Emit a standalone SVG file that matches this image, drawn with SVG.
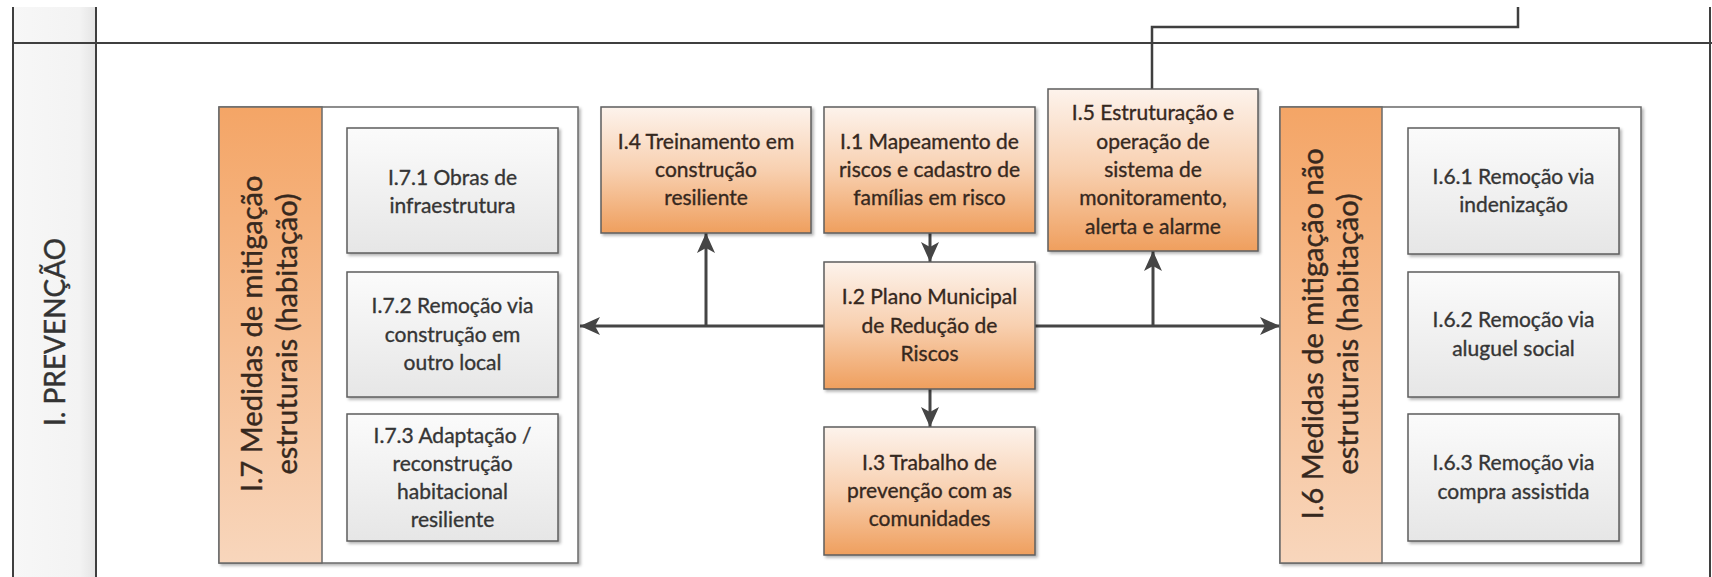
<svg xmlns="http://www.w3.org/2000/svg" width="1712" height="577" viewBox="0 0 1712 577">
<style>
  .lane { stroke: #3f3f3f; stroke-width: 2; fill: none; }
  .cont { fill: #ffffff; stroke: #6a6a6a; stroke-width: 1.5; }
  .band { fill: url(#bandGrad); stroke: #6a6a6a; stroke-width: 1.5; }
  .gbox { fill: url(#grayGrad); stroke: #5e5e5e; stroke-width: 1.5; filter: url(#shadow); }
  .obox { fill: url(#orangeGrad); stroke: #5e5e5e; stroke-width: 1.5; filter: url(#shadow); }
  .t { font-family: Lato, "Liberation Sans", sans-serif; font-size: 21px; text-anchor: middle; stroke-width: 0.35; }
  .tg { fill: #353535; stroke: #353535; }
  .to { fill: #36281e; stroke: #36281e; }
  .tv { font-family: Lato, "Liberation Sans", sans-serif; font-size: 29px; text-anchor: middle; fill: #36281e; stroke: #36281e; stroke-width: 0.4; }
  .tl { font-family: Lato, "Liberation Sans", sans-serif; font-size: 28px; text-anchor: middle; fill: #333333; stroke: #333333; stroke-width: 0.4; }
  .conn { stroke: #454545; stroke-width: 3; fill: none; }
  .conn2 { stroke: #3f3f3f; stroke-width: 2.5; fill: none; }
</style>
<defs>
  <linearGradient id="grayGrad" x1="0" y1="0" x2="0" y2="1">
    <stop offset="0" stop-color="#fbfbfb"/>
    <stop offset="1" stop-color="#e6e6e6"/>
  </linearGradient>
  <linearGradient id="orangeGrad" x1="0" y1="0" x2="0" y2="1">
    <stop offset="0" stop-color="#fdf3ec"/>
    <stop offset="0.5" stop-color="#f8d0b0"/>
    <stop offset="1" stop-color="#ef9f5e"/>
  </linearGradient>
  <linearGradient id="bandGrad" x1="0" y1="0" x2="0" y2="1">
    <stop offset="0" stop-color="#f4a566"/>
    <stop offset="1" stop-color="#f8d6bc"/>
  </linearGradient>
  <linearGradient id="laneGrad" x1="0" y1="0" x2="1" y2="0">
    <stop offset="0" stop-color="#f7f7f7"/>
    <stop offset="0.8" stop-color="#f3f3f3"/>
    <stop offset="1" stop-color="#e4e4e4"/>
  </linearGradient>
  <filter id="shadow" x="-10%" y="-10%" width="125%" height="125%">
    <feDropShadow dx="2" dy="2" stdDeviation="1.5" flood-color="#000" flood-opacity="0.3"/>
  </filter>
  <marker id="arr" markerUnits="userSpaceOnUse" markerWidth="22" markerHeight="20" refX="20" refY="9" orient="auto">
    <path d="M0,0 L20,9 L0,18 L5,9 Z" fill="#454545"/>
  </marker>
</defs>

<g id="lane">
  <rect x="13" y="7" width="83" height="570" fill="url(#laneGrad)"/>
  <line class="lane" x1="13" y1="7" x2="13" y2="577"/>
  <line class="lane" x1="96" y1="7" x2="96" y2="577"/>
  <line class="lane" x1="13" y1="43" x2="1712" y2="43"/>
  <line class="lane" x1="1710" y1="7" x2="1710" y2="577"/>
  <text class="tl" transform="translate(64.5,332) rotate(-90)">I. PREVENÇÃO</text>
</g>

<g id="connectors">
  <path class="conn" d="M930,233 L930,262" marker-end="url(#arr)"/>
  <path class="conn" d="M930,389 L930,427" marker-end="url(#arr)"/>
  <path class="conn" d="M824,326 L580,326" marker-end="url(#arr)"/>
  <path class="conn" d="M706,326 L706,233" marker-end="url(#arr)"/>
  <path class="conn" d="M1035,326 L1280,326" marker-end="url(#arr)"/>
  <path class="conn" d="M1153,326 L1153,251" marker-end="url(#arr)"/>
  <path class="conn2" d="M1152,89 L1152,27 L1518,27 L1518,7"/>
</g>

<g id="I7">
  <rect class="cont" x="219" y="107" width="359" height="456" filter="url(#shadow)"/>
  <rect class="band" x="219" y="107" width="103" height="456"/>
  <text class="tv" transform="translate(261.5,334) rotate(-90)">I.7 Medidas de mitigação</text>
  <text class="tv" transform="translate(296.5,334) rotate(-90)">estruturais (habitação)</text>
</g>
<g id="I7-1">
  <rect class="gbox" x="347" y="128" width="211" height="125"/>
  <text class="t tg" x="452.5" y="184.5">I.7.1 Obras de</text>
  <text class="t tg" x="452.5" y="212.5">infraestrutura</text>
</g>
<g id="I7-2">
  <rect class="gbox" x="347" y="272" width="211" height="125"/>
  <text class="t tg" x="452.5" y="313.2">I.7.2 Remoção via</text>
  <text class="t tg" x="452.5" y="341.5">construção em</text>
  <text class="t tg" x="452.5" y="369.8">outro local</text>
</g>
<g id="I7-3">
  <rect class="gbox" x="347" y="414" width="211" height="127"/>
  <text class="t tg" x="452.5" y="442.5">I.7.3 Adaptação /</text>
  <text class="t tg" x="452.5" y="470.8">reconstrução</text>
  <text class="t tg" x="452.5" y="499.1">habitacional</text>
  <text class="t tg" x="452.5" y="527.4">resiliente</text>
</g>

<g id="I4">
  <rect class="obox" x="601" y="107" width="210" height="126"/>
  <text class="t to" x="706" y="148.7">I.4 Treinamento em</text>
  <text class="t to" x="706" y="177">construção</text>
  <text class="t to" x="706" y="205.3">resiliente</text>
</g>
<g id="I1">
  <rect class="obox" x="824" y="107" width="211" height="126"/>
  <text class="t to" x="929.5" y="148.7">I.1 Mapeamento de</text>
  <text class="t to" x="929.5" y="177">riscos e cadastro de</text>
  <text class="t to" x="929.5" y="205.3">famílias em risco</text>
</g>
<g id="I5">
  <rect class="obox" x="1048" y="89" width="210" height="162"/>
  <text class="t to" x="1153" y="120.4">I.5 Estruturação e</text>
  <text class="t to" x="1153" y="148.7">operação de</text>
  <text class="t to" x="1153" y="177">sistema de</text>
  <text class="t to" x="1153" y="205.3">monitoramento,</text>
  <text class="t to" x="1153" y="233.6">alerta e alarme</text>
</g>
<g id="I2">
  <rect class="obox" x="824" y="262" width="211" height="127"/>
  <text class="t to" x="929.5" y="304.2">I.2 Plano Municipal</text>
  <text class="t to" x="929.5" y="332.5">de Redução de</text>
  <text class="t to" x="929.5" y="360.8">Riscos</text>
</g>
<g id="I3">
  <rect class="obox" x="824" y="427" width="211" height="128"/>
  <text class="t to" x="929.5" y="469.7">I.3 Trabalho de</text>
  <text class="t to" x="929.5" y="498">prevenção com as</text>
  <text class="t to" x="929.5" y="526.3">comunidades</text>
</g>

<g id="I6">
  <rect class="cont" x="1280" y="107" width="361" height="456" filter="url(#shadow)"/>
  <rect class="band" x="1280" y="107" width="102" height="456"/>
  <text class="tv" transform="translate(1322.5,334) rotate(-90)">I.6 Medidas de mitigação não</text>
  <text class="tv" transform="translate(1357.5,334) rotate(-90)">estruturais (habitação)</text>
</g>
<g id="I6-1">
  <rect class="gbox" x="1408" y="128" width="211" height="126"/>
  <text class="t tg" x="1513.5" y="184">I.6.1 Remoção via</text>
  <text class="t tg" x="1513.5" y="212">indenização</text>
</g>
<g id="I6-2">
  <rect class="gbox" x="1408" y="272" width="211" height="125"/>
  <text class="t tg" x="1513.5" y="327.4">I.6.2 Remoção via</text>
  <text class="t tg" x="1513.5" y="355.6">aluguel social</text>
</g>
<g id="I6-3">
  <rect class="gbox" x="1408" y="414" width="211" height="127"/>
  <text class="t tg" x="1513.5" y="470.4">I.6.3 Remoção via</text>
  <text class="t tg" x="1513.5" y="498.6">compra assistida</text>
</g>
</svg>
